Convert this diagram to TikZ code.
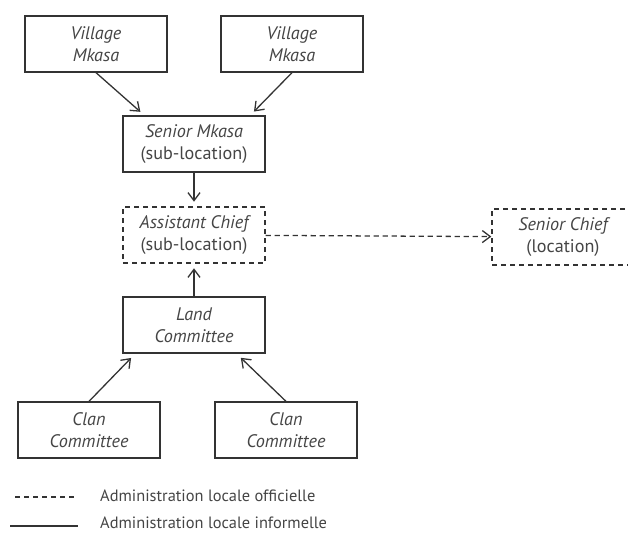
\documentclass[tikz,border=0pt]{standalone}
\usepackage{fontspec}
\setmainfont{PT Sans}
\usepackage{xcolor}
\usetikzlibrary{positioning,arrows.meta}
\definecolor{ink}{HTML}{333333}
\definecolor{words}{HTML}{454545}

\begin{document}
\begin{tikzpicture}[
  x=0.03cm, y=-0.03cm,
  % one box per office; the first line is the title, in italics
  office/.style   = {draw=ink, line width=1.1pt, minimum width=4.26cm,
                     minimum height=1.68cm, align=center, text=words,
                     font=\fontsize{15.5}{19}\selectfont, inner sep=2pt},
  official/.style = {office, dash pattern=on 1.6mm off 1.1mm},
  hop/.style      = {-{Straight Barb[length=2.4mm,width=3.6mm]}, draw=ink, line width=1.1pt},
  tag/.style      = {text=words, font=\fontsize{14}{16}\selectfont, anchor=west, inner sep=0pt},
]
\useasboundingbox (0,0) rectangle (628,532);
\clip (0,0) rectangle (628,532);

% ---------------------------------------------------------------- villages --
\node[office] (vm1) at (96,44)  {\itshape Village\\\itshape Mkasa};
\node[office] (vm2) at (292,44) {\itshape Village\\\itshape Mkasa};

% ------------------------------------------------------------ sub-location --
\node[office]   (sm) at (194,144) {\itshape Senior Mkasa\\(sub-location)};
\node[official] (ac) at (194,235) {\itshape Assistant Chief\\(sub-location)};

% ---------------------------------------------------------------- location --
\node[official] (sc) at (563,237) {\itshape Senior Chief\\(location)};

% -------------------------------------------------------------- committees --
\node[office] (lc)  at (194,325) {\itshape Land\\\itshape Committee};
\node[office] (cc1) at (89,430)  {\itshape Clan\\\itshape Committee};
\node[office] (cc2) at (286,430) {\itshape Clan\\\itshape Committee};

% ------------------------------------------------------------------ arrows --
\draw[hop, shorten >=1.6mm] (vm1.south) -- (sm.150);
\draw[hop, shorten >=1.6mm] (vm2.south) -- (sm.27);
\draw[hop, shorten >=1.4mm] (sm) -- (ac);
\draw[hop, shorten >=1.4mm] (lc) -- (ac);
\draw[hop, shorten >=1.8mm] (cc1.north) -- (lc.206);
\draw[hop, shorten >=1.8mm] (cc2.north) -- (lc.326);
\draw[hop, dash pattern=on 1.6mm off 1.1mm] (ac) -- (sc);

% ------------------------------------------------------------------ legend --
\node[tag] (off) at (100,496) {Administration locale officielle};
\node[tag] (inf) at (100,523) {Administration locale informelle};
\coordinate (offa) at (15,497);
\coordinate (offb) at (77,497);
\coordinate (infa) at (10,526);
\coordinate (infb) at (78,526);
\draw[draw=ink, line width=1.1pt, dash pattern=on 1.6mm off 1.1mm] (offa) -- (offb);
\draw[draw=ink, line width=1.1pt] (infa) -- (infb);

\end{tikzpicture}
\end{document}
